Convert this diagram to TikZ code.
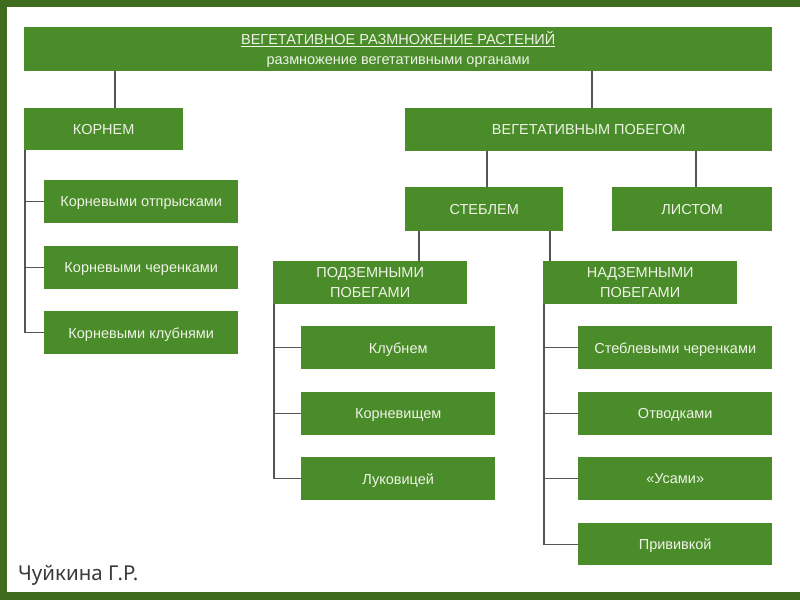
\documentclass[tikz,border=0pt]{standalone}
\usepackage{fontspec}
\setmainfont{Liberation Sans}
\newfontfamily\signfont{Noto Sans}
\definecolor{boxgreen}{HTML}{4A8C2A}
\definecolor{framegreen}{HTML}{3E6B1D}
\definecolor{boxtext}{HTML}{EEF3E6}
\definecolor{linegray}{HTML}{555555}
\definecolor{signgray}{HTML}{3A3A3A}
\tikzset{
  gbox/.style={fill=boxgreen, draw=none, anchor=north west, inner sep=0pt,
    text=boxtext, align=center, font=\fontsize{14.5}{20}\selectfont},
  onebox/.style={gbox, text depth=0pt},
  conn/.style={draw=linegray, line width=1.3pt},
}
\begin{document}
\begin{tikzpicture}[x=1pt,y=-1pt]
\useasboundingbox (0,0) rectangle (800,600);
\fill[framegreen] (0,0) rectangle (800,600);
\fill[white] (7,7) rectangle (800,592);

\node[gbox, minimum width=748, minimum height=44] (top) at (24,27)
  {\fontsize{14.5}{18.5}\selectfont\underline{ВЕГЕТАТИВНОЕ РАЗМНОЖЕНИЕ РАСТЕНИЙ}\\
   \fontsize{14.5}{18.5}\selectfont размножение вегетативными органами};
\node[onebox, minimum width=159, minimum height=42] (kor) at (24,108) {КОРНЕМ};
\node[onebox, minimum width=367, minimum height=43] (veg) at (405,108) {ВЕГЕТАТИВНЫМ ПОБЕГОМ};
\node[onebox, minimum width=158, minimum height=44] (stem) at (405,187) {СТЕБЛЕМ};
\node[onebox, minimum width=160, minimum height=44] (leaf) at (612,187) {ЛИСТОМ};
\node[gbox, minimum width=194, minimum height=43] (podz) at (273,261) {ПОДЗЕМНЫМИ\\ПОБЕГАМИ};
\node[gbox, minimum width=194, minimum height=43] (nadz) at (543,261) {НАДЗЕМНЫМИ\\ПОБЕГАМИ};

\node[onebox, minimum width=194, minimum height=43] (r1) at (44,180) {Корневыми отпрысками};
\node[onebox, minimum width=194, minimum height=43] (r2) at (44,246) {Корневыми черенками};
\node[onebox, minimum width=194, minimum height=43] (r3) at (44,311) {Корневыми клубнями};

\node[onebox, minimum width=194, minimum height=43] (p1) at (301,326) {Клубнем};
\node[onebox, minimum width=194, minimum height=43] (p2) at (301,392) {Корневищем};
\node[onebox, minimum width=194, minimum height=43] (p3) at (301,457) {Луковицей};

\node[onebox, minimum width=194, minimum height=43] (n1) at (578,326) {Стеблевыми черенками};
\node[onebox, minimum width=194, minimum height=43] (n2) at (578,392) {Отводками};
\node[onebox, minimum width=194, minimum height=43] (n3) at (578,457) {«Усами»};
\node[onebox, minimum width=194, minimum height=42] (n4) at (578,523) {Прививкой};

\node[anchor=west, inner sep=0pt, text=signgray, font=\signfont\fontsize{20.5}{24}\selectfont] (sign) at (18,575) {Чуйкина Г.Р.};

\coordinate (xa) at (115,0);
\coordinate (xb) at (592,0);
\coordinate (xc) at (487,0);
\coordinate (xd) at (696,0);
\coordinate (xe) at (419,0);
\coordinate (xf) at (550,0);

\draw[conn] (top.south -| xa) -- (kor.north -| xa);
\draw[conn] (top.south -| xb) -- (veg.north -| xb);
\draw[conn] (veg.south -| xc) -- (stem.north -| xc);
\draw[conn] (veg.south -| xd) -- (leaf.north -| xd);
\draw[conn] (stem.south -| xe) -- (podz.north -| xe);
\draw[conn] (stem.south -| xf) -- (nadz.north -| xf);

\foreach \c in {r1,r2,r3}{\draw[conn] ([xshift=1pt]kor.south west) |- (\c.west);}
\foreach \c in {p1,p2,p3}{\draw[conn] ([xshift=1pt]podz.south west) |- (\c.west);}
\foreach \c in {n1,n2,n3,n4}{\draw[conn] ([xshift=1pt]nadz.south west) |- (\c.west);}
\end{tikzpicture}
\end{document}
